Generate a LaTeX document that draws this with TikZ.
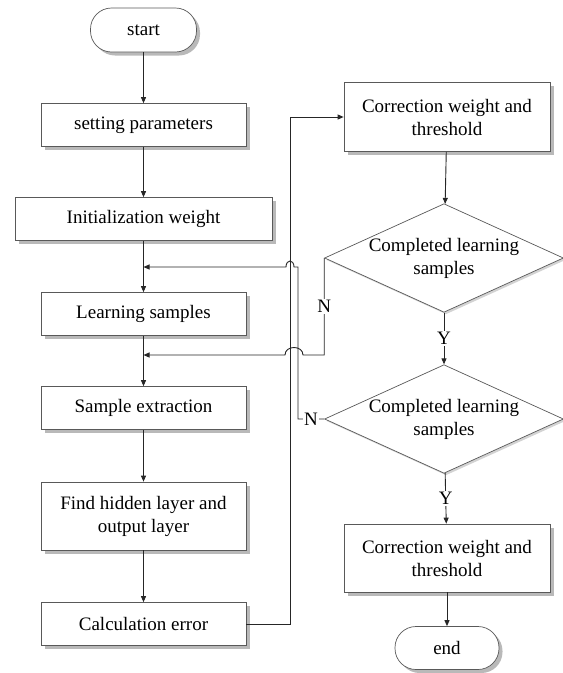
\documentclass[tikz,border=0pt]{standalone}
\usepackage{fontspec}
\setmainfont{Liberation Serif}
\usetikzlibrary{shapes.geometric,shadows,arrows.meta}

\begin{document}
\begin{tikzpicture}[x=1pt,y=-1pt,
    every node/.style={font=\fontsize{19}{23}\selectfont},
    stepbox/.style={draw=black!65,fill=white,line width=0.7pt,align=center,
        minimum width=205pt,minimum height=43pt,inner sep=2pt,
        drop shadow={shadow xshift=3.5pt,shadow yshift=-3.5pt,opacity=0.55}},
    terminal/.style={stepbox,minimum width=106pt,minimum height=44pt,rounded corners=21pt},
    decision/.style={diamond,draw=black!65,fill=white,line width=0.7pt,align=center,
        minimum width=236pt,minimum height=106pt,inner sep=0pt,aspect=2.2,
        drop shadow={shadow xshift=2pt,shadow yshift=-2pt,opacity=0.35}},
    flow/.style={draw=black!85,line width=0.9pt},
    arrow/.style={flow,-{Triangle[length=6pt,width=5pt]}},
    lbl/.style={fill=white,inner sep=1pt}]
\useasboundingbox (0,0) rectangle (563,673);

% left column
\node [terminal] (start) at (143.5,30) {start};
\node [stepbox] (setting) at (143.5,125) {setting parameters};
\node [stepbox,minimum width=257pt] (init) at (143.5,219) {Initialization weight};
\node [stepbox] (learn) at (143.5,314) {Learning samples};
\node [stepbox] (extract) at (143.5,408) {Sample extraction};
\node [stepbox,minimum height=68pt] (hidden) at (143.5,516) {Find hidden layer and\\output layer};
\node [stepbox] (error) at (143.5,624) {Calculation error};

% right column
\node [stepbox,minimum width=206pt,minimum height=69pt] (correct1) at (447,117) {Correction weight and\\threshold};
\node [decision] (check1) at (444,258) {Completed learning\\samples};
\node [decision] (check2) at (444,419) {Completed learning\\samples};
\node [stepbox,minimum width=206pt,minimum height=68pt] (correct2) at (447,558) {Correction weight and\\threshold};
\node [terminal,minimum width=104pt,minimum height=43pt] (end) at (447,648) {end};

% joins and buses
\coordinate (join1) at (143.5,267);
\coordinate (join2) at (143.5,355);
\coordinate (busA) at (290,0);
\coordinate (busB) at (298,0);

\draw [arrow] (start) -- (setting);
\draw [arrow] (setting) -- (init);
\draw [arrow] (init) -- (learn);
\draw [arrow] (learn) -- (extract);
\draw [arrow] (extract) -- (hidden);
\draw [arrow] (hidden) -- (error);

\draw [arrow] (correct1) -- (check1);
\draw [arrow] (check1) -- node[lbl]{Y} (check2);
\draw [arrow] (check2) -- node[lbl]{Y} (correct2);
\draw [arrow] (correct2) -- (end);

\draw [arrow] (error.east) -- (error.east -| busA) -- (correct1.west -| busA) -- (correct1.west);

\draw [arrow] (check2.west) -- node[lbl]{N} (check2.west -| busB) -- (join1 -| busB)
    -- (294,267) .. controls (294,259) and (286,259) .. (286,267) -- (join1);

\draw [arrow] (check1.west) -- node[lbl]{N} (check1.west |- join2)
    -- (303,355) .. controls (303,345) and (285,345) .. (285,355) -- (join2);
\end{tikzpicture}
\end{document}
